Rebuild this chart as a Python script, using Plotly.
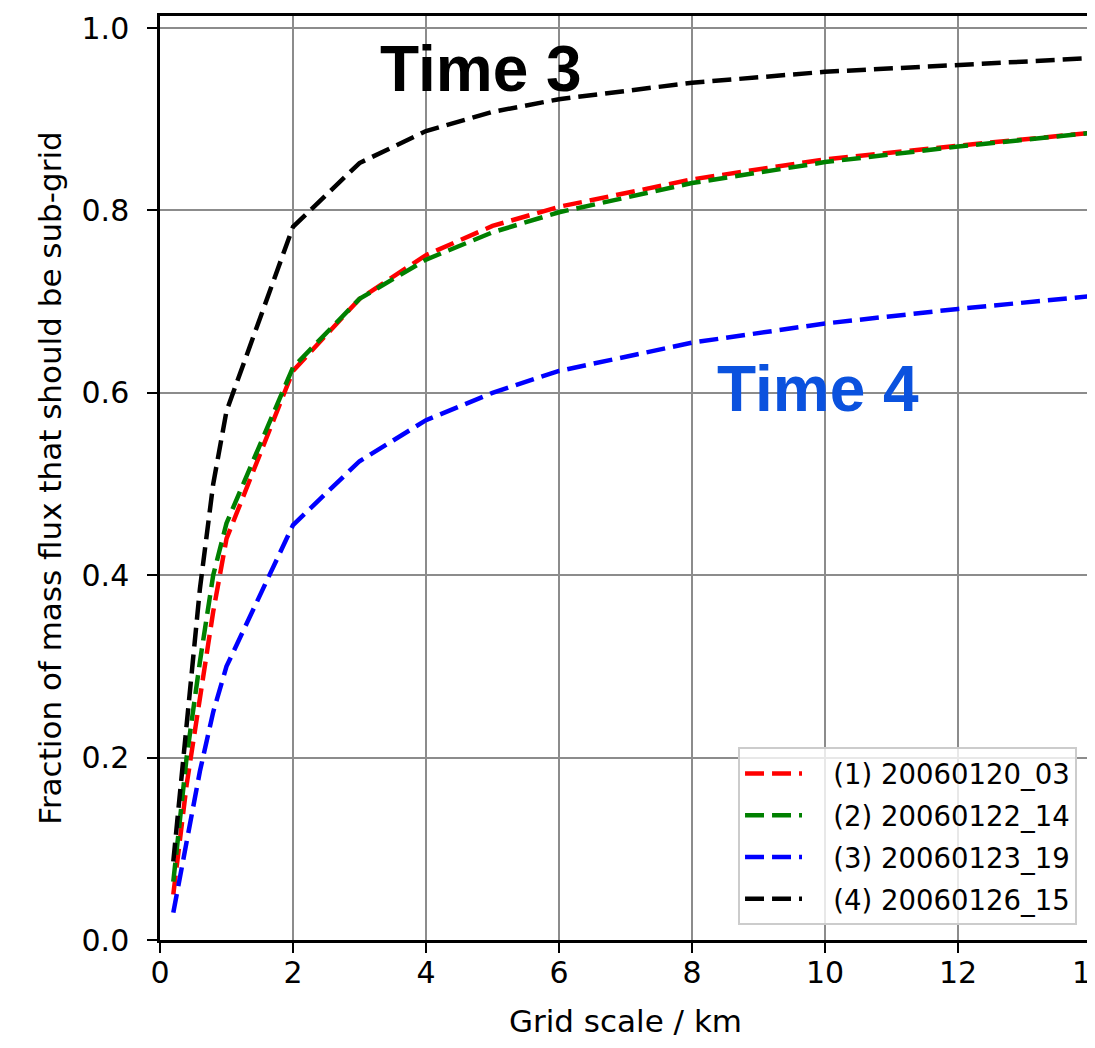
import plotly.graph_objects as go

grid_km = [0.2, 0.4, 0.6, 0.8, 1, 2, 3, 4, 5, 6, 8, 10, 12, 14]

series_names = ["(1) 20060120_03", "(2) 20060122_14", "(3) 20060123_19", "(4) 20060126_15"]
frac_1 = [0.05, 0.17, 0.265, 0.36, 0.44, 0.624, 0.703, 0.751, 0.783, 0.804, 0.834, 0.856, 0.871, 0.885]
frac_2 = [0.064, 0.20, 0.305, 0.40, 0.457, 0.628, 0.703, 0.746, 0.776, 0.798, 0.830, 0.853, 0.870, 0.885]
frac_3 = [0.03, 0.11, 0.185, 0.25, 0.30, 0.455, 0.525, 0.570, 0.600, 0.624, 0.655, 0.676, 0.692, 0.706]
frac_4 = [0.086, 0.23, 0.385, 0.50, 0.58, 0.782, 0.852, 0.887, 0.908, 0.922, 0.940, 0.952, 0.960, 0.967]
colors = ["#ff0000", "#008000", "#0000ff", "#000000"]

x_ticks = [0, 2, 4, 6, 8, 10, 12, 14]
y_ticks = [0.0, 0.2, 0.4, 0.6, 0.8, 1.0]
y_tick_labels = ["0.0", "0.2", "0.4", "0.6", "0.8", "1.0"]

fig = go.Figure()
for i, (name, ys) in enumerate(zip(series_names, [frac_1, frac_2, frac_3, frac_4])):
    fig.add_trace(go.Scatter(
        x=grid_km, y=ys, mode="lines", name="\u00a0\u00a0\u00a0" + name,
        legendgroup=f"g{i}",
        line=dict(color=colors[i], width=4.5, dash="19px,8px"),
    ))

fig.add_annotation(x=4.83, y=0.9556, text="<b>Time 3</b>", showarrow=False,
                   xanchor="center", yanchor="middle",
                   font=dict(family="Liberation Sans, Arial", size=64, color="#000000"))
fig.add_annotation(x=9.89, y=0.6047, text="<b>Time 4</b>", showarrow=False,
                   xanchor="center", yanchor="middle",
                   font=dict(family="Liberation Sans, Arial", size=64, color="#0B52DE"))

axis_common = dict(
    showline=True, linecolor="black", linewidth=2.5, mirror=True,
    showgrid=True, gridcolor="#8c8c8c", gridwidth=2,
    ticks="outside", ticklen=10, tickwidth=2, tickcolor="black",
    zeroline=False, ticklabeloverflow="allow",
    tickfont=dict(family="DejaVu Sans", size=30, color="black"),
)

fig.update_layout(
    width=1087, height=1040,
    margin=dict(l=152, r=4, t=8, b=108),
    paper_bgcolor="white", plot_bgcolor="white",
    showlegend=True,
    legend=dict(
        x=0.985, y=0.016, xanchor="right", yanchor="bottom",
        bgcolor="rgba(255,255,255,0.8)", bordercolor="#cccccc", borderwidth=2,
        font=dict(family="DejaVu Sans", size=27.5, color="black"),
        traceorder="grouped", tracegroupgap=3, itemwidth=57,
    ),
    xaxis=dict(
        range=[0, 14], tickvals=x_ticks, ticktext=[str(v) for v in x_ticks],
        automargin=False, ticklabelstandoff=-6,
        title=dict(text="Grid scale / km", font=dict(family="DejaVu Sans", size=31, color="black"), standoff=22),
        **axis_common,
    ),
    yaxis=dict(
        range=[0, 1.0132], tickvals=y_ticks, ticktext=y_tick_labels,
        automargin=False, ticklabelstandoff=12,
        title=dict(text="Fraction of mass flux that should be sub-grid", font=dict(family="DejaVu Sans", size=31, color="black"), standoff=11),
        **axis_common,
    ),
)

fig.write_html("out.html")
